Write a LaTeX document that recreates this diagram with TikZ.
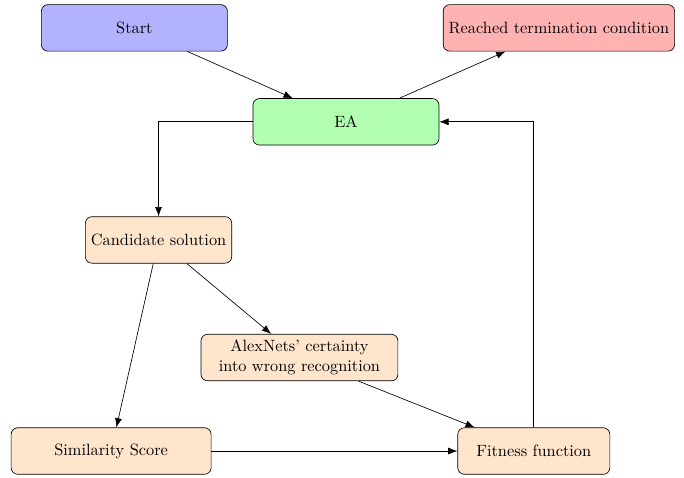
\documentclass[tikz,border=0pt]{standalone}
\usetikzlibrary{arrows.meta}
\begin{document}
\begin{tikzpicture}[>={Latex[length=2mm]},
  block/.style={draw, rounded corners, minimum height=1cm, align=center},
  stepbox/.style={block, fill=orange!20}]
  \useasboundingbox (0,0) rectangle (14.71,-10.26);
  \node[block, fill=blue!30, minimum width=4cm] (start) at (2.89,-0.60) {Start};
  \node[block, fill=red!30] (stop) at (12.02,-0.60) {Reached termination condition};
  \node[block, fill=green!30, minimum width=4cm] (ea) at (7.44,-2.62) {EA};
  \node[stepbox, minimum width=3cm] (cand) at (3.41,-5.16) {Candidate solution};
  \node[stepbox, text width=4cm] (alex) at (6.44,-7.69) {AlexNets' certainty\\into wrong recognition};
  \node[stepbox, minimum width=4.3cm] (sim) at (2.39,-9.70) {Similarity Score};
  \node[stepbox, minimum width=3.27cm] (fit) at (11.48,-9.70) {Fitness function};
  \draw[->] (start) -- (ea);
  \draw[->] (ea) -- (stop);
  \draw[->] (ea) -| (cand);
  \draw[->] (cand) -- (alex);
  \draw[->] (cand) -- (sim);
  \draw[->] (alex) -- (fit);
  \draw[->] (sim) -- (fit);
  \draw[->] (fit) |- (ea);
\end{tikzpicture}
\end{document}
